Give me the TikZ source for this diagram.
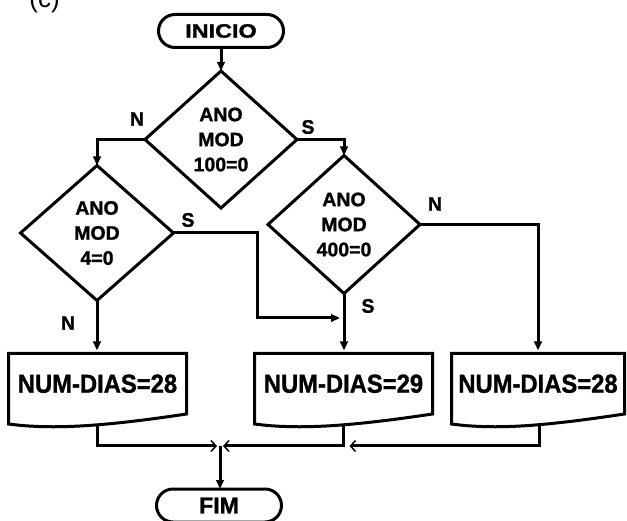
\documentclass[tikz,border=0pt]{standalone}
\usepackage{fontspec}
\setmainfont{Liberation Sans}[BoldFeatures={FakeBold=1.2}]
\usetikzlibrary{shapes.geometric,shapes.misc,arrows.meta,calc}
\newcommand\docoutline[1]{%
  \draw[ln] (#1.south east) -- (#1.north east) -- (#1.north west)
    -- ($(#1.south west)+(0,10)$) .. controls +(45,6) and +(-80,12) .. (#1.south east) -- cycle;}
\begin{document}
\begin{tikzpicture}[x=1pt,y=-1pt,
  every node/.style={inner sep=0pt, outer sep=0pt},
  ln/.style={line width=3pt},
  term/.style={rounded rectangle, draw, line width=3pt, minimum width=125pt,
    minimum height=33pt, font=\fontsize{19.5}{24}\selectfont\bfseries},
  dec/.style={diamond, draw, line width=3pt, align=center,
    font=\fontsize{19.5}{25}\selectfont\bfseries},
  docbox/.style={rectangle, minimum height=60.5pt, font=\fontsize{26}{30}\selectfont\bfseries},
  lbl/.style={font=\fontsize{19.5}{24}\selectfont\bfseries},
  arr/.style={line width=3pt, -{Triangle[length=9pt,width=7.5pt]}},
  marr/.style={line width=3pt, -{Straight Barb[length=5pt,width=11pt,line width=1.5pt]}},
]
\useasboundingbox (0,0) rectangle (627,521);
\node[anchor=base, font=\fontsize{26}{30}\selectfont] (cap) at (44.5,8) {(c)};

% terminals
\node[term] (start) at (221,31) {\scalebox{1.2}[1]{INICIO}};
\node[term, font=\fontsize{23}{26}\selectfont\bfseries] (fim) at (219,505.5) {FIM};

% decisions
\node[dec, minimum width=152pt, minimum height=137pt] (d1) at (221,139.5) {ANO\\MOD\\100=0};
\node[dec, minimum width=153pt, minimum height=135pt] (d2) at (97,233) {ANO\\MOD\\4=0};
\node[dec, minimum width=152pt, minimum height=138pt] (d3) at (344,224.5) {ANO\\MOD\\400=0};

% process boxes
\node[docbox, minimum width=178pt] (b1) at (97.5,383.75) {\scalebox{0.915}[1]{NUM-DIAS=28}};
\node[docbox, minimum width=178pt] (b2) at (343.5,383.75) {\scalebox{0.915}[1]{NUM-DIAS=29}};
\node[docbox, minimum width=173pt] (b3) at (538,383.75) {\scalebox{0.915}[1]{NUM-DIAS=28}};
\docoutline{b1}
\docoutline{b2}
\docoutline{b3}

% labels
\node[lbl] (n1) at (137,119) {N};
\node[lbl] (s1) at (308,127) {S};
\node[lbl] (s2) at (188,220) {S};
\node[lbl] (n2) at (68,323) {N};
\node[lbl] (n3) at (435,204) {N};
\node[lbl] (s3) at (368,306) {S};

% connectors
\draw[arr] (start.south) -- (d1.north);
\draw[arr] (d1.west) -| (d2.north);
\draw[arr] (d1.east) -| (d3.north);
\coordinate (sc) at (257,318);
\coordinate (st) at (340,318);
\draw[arr] (d2.east) -| (sc) -- (st);
\draw[arr, shorten >=3pt] (d2.south) -- (d2.south |- b1.north);
\draw[arr, shorten >=3pt] (d3.south) -- (d3.south |- b2.north);
\draw[arr, shorten >=3pt] (d3.east) -| (b3.north);

% merge
\coordinate (b1o) at ($(b1.south)+(0,11.5)$);
\coordinate (b2o) at ($(b2.south)+(0,11.5)$);
\coordinate (b3o) at ($(b3.south)+(1,11.5)$);
\coordinate (jn) at (220,446);
\draw[marr] (b1o) |- ($(jn)+(-3,0)$);
\draw[marr] (b2o) |- ($(jn)+(3,0)$);
\draw[marr] (b3o) |- ($(b2o |- jn)+(6,0)$);
\draw[arr] (jn) -- (jn |- fim.north);
\end{tikzpicture}
\end{document}
